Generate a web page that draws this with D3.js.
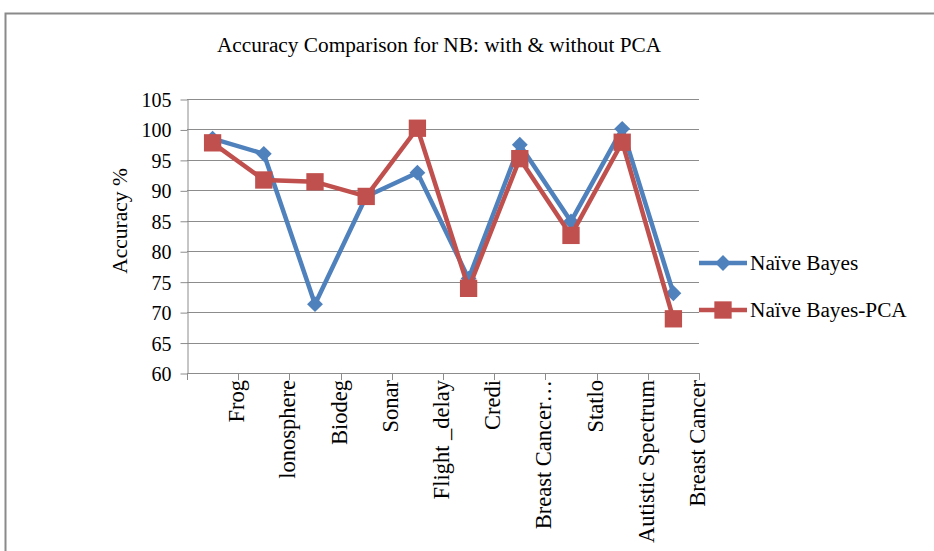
<!DOCTYPE html>
<html>
<head>
<meta charset="utf-8">
<script src="https://cdn.jsdelivr.net/npm/d3@7"></script>
<style>
  body { margin: 0; background: #fff; }
  svg text { font-family: "Liberation Serif", "Times New Roman", serif; fill: #000; }
</style>
</head>
<body>
<svg id="chart" width="934" height="551"></svg>
<script>
const categories = ["Frog", "lonosphere", "Biodeg", "Sonar", "Flight _delay", "Credi",
  "Breast Cancer…", "Statlo", "Autistic Spectrum", "Breast Cancer"];
const naiveBayes = [98.5, 96.0, 71.3, 89.0, 92.9, 75.5, 97.5, 84.9, 100.1, 73.1];
const naiveBayesPCA = [97.8, 91.7, 91.4, 89.0, 100.2, 73.9, 95.2, 82.6, 97.9, 68.9];
const yTicks = [60, 65, 70, 75, 80, 85, 90, 95, 100, 105];
const seriesNames = ["Naïve Bayes", "Naïve Bayes-PCA"];

const svg = d3.select("#chart");
const plotLeft = 187, plotRight = 699, plotTop = 99, plotBottom = 373;
const blue = "#4f81bd", red = "#c0504d", gridColor = "#8c8c8c";

// outer frame
svg.append("path")
  .attr("d", "M5.5,560 L5.5,13.5 L940,13.5")
  .attr("fill", "none")
  .attr("stroke", "#8a8a8a")
  .attr("stroke-width", 2);

svg.append("text")
  .attr("x", 439).attr("y", 52)
  .attr("text-anchor", "middle")
  .style("font-size", "21.3px")
  .text("Accuracy Comparison for NB: with & without PCA");

const x = d3.scaleBand().domain(categories).range([plotLeft, plotRight]);
const y = d3.scaleLinear().domain([60, 105]).range([plotBottom, plotTop]);

// gridlines
svg.append("g")
  .selectAll("line")
  .data(yTicks)
  .enter()
  .append("line")
  .attr("x1", plotLeft).attr("x2", plotRight)
  .attr("y1", (d) => Math.round(y(d)) + 0.5)
  .attr("y2", (d) => Math.round(y(d)) + 0.5)
  .attr("stroke", gridColor)
  .attr("stroke-width", 1);

// y axis
const yAxis = svg.append("g")
  .attr("transform", `translate(${plotLeft + 0.5},0.5)`)
  .call(d3.axisLeft(y).tickValues(yTicks).tickSize(7).tickSizeOuter(0).tickPadding(9));
yAxis.selectAll("line, .domain").attr("stroke", gridColor);
yAxis.selectAll("text").style("font-size", "20px").attr("dy", "0.35em");

// x axis with ticks at category boundaries
const boundaries = categories.map((c) => x(c)).concat([plotRight]);
svg.append("line")
  .attr("x1", plotLeft).attr("x2", plotRight)
  .attr("y1", plotBottom + 0.5).attr("y2", plotBottom + 0.5)
  .attr("stroke", gridColor);
svg.append("g")
  .selectAll("line")
  .data(boundaries)
  .enter()
  .append("line")
  .attr("x1", (d) => Math.round(d) + 0.5)
  .attr("x2", (d) => Math.round(d) + 0.5)
  .attr("y1", plotBottom).attr("y2", plotBottom + 7)
  .attr("stroke", gridColor);

// labels sit at the right-hand tick of each category (as in the source)
svg.append("g")
  .selectAll("text")
  .data(categories)
  .enter()
  .append("text")
  .attr("transform", (d) => `translate(${x(d) + x.bandwidth() + 6},${plotBottom + 7}) rotate(-90)`)
  .attr("text-anchor", "end")
  .style("font-size", "22.5px")
  .text((d) => d);

svg.append("text")
  .attr("transform", `translate(127,${(plotTop + plotBottom) / 2 - 15}) rotate(-90)`)
  .attr("text-anchor", "middle")
  .style("font-size", "21.5px")
  .text("Accuracy %");

const line = d3.line()
  .x((d, i) => x(categories[i]) + x.bandwidth() / 2)
  .y((d) => y(d));

const diamond = d3.symbol().type(d3.symbolDiamond2).size(160);
const square = d3.symbol().type(d3.symbolSquare).size(300);

function drawSeries(values, color, sym) {
  svg.append("path")
    .datum(values)
    .attr("d", line)
    .attr("fill", "none")
    .attr("stroke", color)
    .attr("stroke-width", 4.5)
    .attr("stroke-linejoin", "round");
  svg.append("g")
    .selectAll("path")
    .data(values)
    .enter()
    .append("path")
    .attr("d", sym)
    .attr("transform", (d, i) => `translate(${x(categories[i]) + x.bandwidth() / 2},${y(d)})`)
    .attr("fill", color);
}

drawSeries(naiveBayes, blue, diamond);
drawSeries(naiveBayesPCA, red, square);

// legend
const legend = svg.append("g");
[[blue, diamond, 263], [red, square, 310]].forEach(([color, sym, ly], i) => {
  legend.append("line")
    .attr("x1", 699).attr("x2", 747)
    .attr("y1", ly).attr("y2", ly)
    .attr("stroke", color).attr("stroke-width", 4.5);
  legend.append("path")
    .attr("d", sym)
    .attr("transform", `translate(723,${ly})`)
    .attr("fill", color);
  legend.append("text")
    .attr("x", 750).attr("y", ly + 7)
    .style("font-size", "21.3px")
    .text(seriesNames[i]);
});
</script>
</body>
</html>
